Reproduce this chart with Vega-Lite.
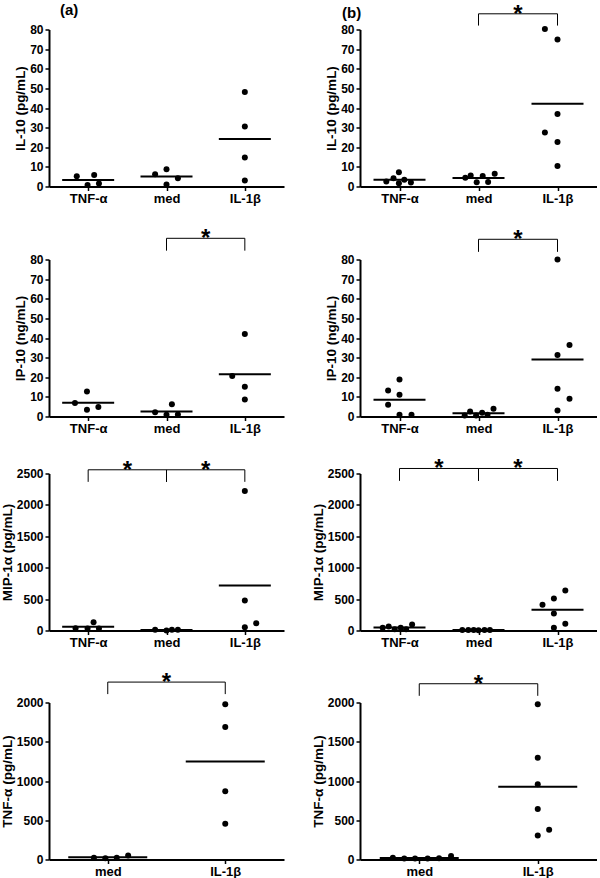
{
  "$schema": "https://vega.github.io/schema/vega-lite/v6.json",
  "padding": {"left": 0, "top": 2.5, "right": 0, "bottom": 0},
  "columns": 2,
  "align": "each",
  "spacing": {"row": 21, "column": 27},
  "datasets": {
    "pts": [
      {"p":"a1","cat":"TNF-α","v":5.2,"jit":-1.9},{"p":"a1","cat":"TNF-α","v":0.8,"jit":-0.1},{"p":"a1","cat":"TNF-α","v":5.8,"jit":1.0},{"p":"a1","cat":"TNF-α","v":1.5,"jit":1.8},
      {"p":"a1","cat":"med","v":6.3,"jit":-1.9},{"p":"a1","cat":"med","v":8.8,"jit":0},{"p":"a1","cat":"med","v":1.0,"jit":0},{"p":"a1","cat":"med","v":4.2,"jit":1.9},
      {"p":"a1","cat":"IL-1β","v":48.2,"jit":0},{"p":"a1","cat":"IL-1β","v":30.6,"jit":0},{"p":"a1","cat":"IL-1β","v":14.8,"jit":0},{"p":"a1","cat":"IL-1β","v":3.1,"jit":0},

      {"p":"b1","cat":"TNF-α","v":2.5,"jit":-2.2},{"p":"b1","cat":"TNF-α","v":4.2,"jit":-1.0},{"p":"b1","cat":"TNF-α","v":7.2,"jit":-0.1},{"p":"b1","cat":"TNF-α","v":1.7,"jit":-0.1},{"p":"b1","cat":"TNF-α","v":3.4,"jit":0.8},{"p":"b1","cat":"TNF-α","v":2.0,"jit":1.9},
      {"p":"b1","cat":"med","v":4.4,"jit":-2.2},{"p":"b1","cat":"med","v":5.6,"jit":-1.3},{"p":"b1","cat":"med","v":2.2,"jit":-0.3},{"p":"b1","cat":"med","v":5.3,"jit":0.7},{"p":"b1","cat":"med","v":2.3,"jit":1.6},{"p":"b1","cat":"med","v":6.5,"jit":2.7},
      {"p":"b1","cat":"IL-1β","v":80.3,"jit":-2.1},{"p":"b1","cat":"IL-1β","v":74.9,"jit":0},{"p":"b1","cat":"IL-1β","v":37.0,"jit":0},{"p":"b1","cat":"IL-1β","v":27.5,"jit":-2.1},{"p":"b1","cat":"IL-1β","v":22.7,"jit":0},{"p":"b1","cat":"IL-1β","v":10.4,"jit":0},

      {"p":"a2","cat":"TNF-α","v":6.9,"jit":-2.2},{"p":"a2","cat":"TNF-α","v":12.8,"jit":-0.2},{"p":"a2","cat":"TNF-α","v":3.4,"jit":-0.2},{"p":"a2","cat":"TNF-α","v":4.8,"jit":1.7},
      {"p":"a2","cat":"med","v":2.2,"jit":-1.9},{"p":"a2","cat":"med","v":0.9,"jit":0},{"p":"a2","cat":"med","v":6.3,"jit":0.9},{"p":"a2","cat":"med","v":1.0,"jit":1.9},
      {"p":"a2","cat":"IL-1β","v":42.0,"jit":0},{"p":"a2","cat":"IL-1β","v":20.6,"jit":-2.1},{"p":"a2","cat":"IL-1β","v":15.1,"jit":0},{"p":"a2","cat":"IL-1β","v":8.6,"jit":0},

      {"p":"b2","cat":"TNF-α","v":13.3,"jit":-1.9},{"p":"b2","cat":"TNF-α","v":18.8,"jit":0},{"p":"b2","cat":"TNF-α","v":11.1,"jit":0},{"p":"b2","cat":"TNF-α","v":6.0,"jit":-1.9},{"p":"b2","cat":"TNF-α","v":0.9,"jit":0},{"p":"b2","cat":"TNF-α","v":0.9,"jit":2.0},
      {"p":"b2","cat":"med","v":0.5,"jit":-2.3},{"p":"b2","cat":"med","v":2.6,"jit":-1.4},{"p":"b2","cat":"med","v":0.5,"jit":-0.4},{"p":"b2","cat":"med","v":1.9,"jit":0.6},{"p":"b2","cat":"med","v":0.9,"jit":1.5},{"p":"b2","cat":"med","v":3.9,"jit":2.5},
      {"p":"b2","cat":"IL-1β","v":80.0,"jit":0},{"p":"b2","cat":"IL-1β","v":36.4,"jit":2.0},{"p":"b2","cat":"IL-1β","v":31.3,"jit":0},{"p":"b2","cat":"IL-1β","v":14.2,"jit":0},{"p":"b2","cat":"IL-1β","v":9.1,"jit":2.0},{"p":"b2","cat":"IL-1β","v":3.1,"jit":0},

      {"p":"a3","cat":"TNF-α","v":37,"jit":-2.1},{"p":"a3","cat":"TNF-α","v":32,"jit":-0.1},{"p":"a3","cat":"TNF-α","v":133,"jit":0.9},{"p":"a3","cat":"TNF-α","v":32,"jit":1.8},
      {"p":"a3","cat":"med","v":10,"jit":-1.9},{"p":"a3","cat":"med","v":0,"jit":0},{"p":"a3","cat":"med","v":10,"jit":0.9},{"p":"a3","cat":"med","v":10,"jit":1.9},
      {"p":"a3","cat":"IL-1β","v":2223,"jit":0},{"p":"a3","cat":"IL-1β","v":479,"jit":0},{"p":"a3","cat":"IL-1β","v":53,"jit":0},{"p":"a3","cat":"IL-1β","v":117,"jit":1.9},

      {"p":"b3","cat":"TNF-α","v":43,"jit":-2.8},{"p":"b3","cat":"TNF-α","v":64,"jit":-1.8},{"p":"b3","cat":"TNF-α","v":21,"jit":-0.8},{"p":"b3","cat":"TNF-α","v":43,"jit":0.2},{"p":"b3","cat":"TNF-α","v":21,"jit":1.1},{"p":"b3","cat":"TNF-α","v":96,"jit":2.1},
      {"p":"b3","cat":"med","v":8,"jit":-2.7},{"p":"b3","cat":"med","v":8,"jit":-1.7},{"p":"b3","cat":"med","v":8,"jit":-0.8},{"p":"b3","cat":"med","v":4,"jit":0},{"p":"b3","cat":"med","v":8,"jit":1.0},{"p":"b3","cat":"med","v":8,"jit":1.9},
      {"p":"b3","cat":"IL-1β","v":410,"jit":-2.5},{"p":"b3","cat":"IL-1β","v":511,"jit":-0.6},{"p":"b3","cat":"IL-1β","v":638,"jit":1.3},{"p":"b3","cat":"IL-1β","v":271,"jit":-0.6},{"p":"b3","cat":"IL-1β","v":106,"jit":1.3},{"p":"b3","cat":"IL-1β","v":43,"jit":-0.6},

      {"p":"a4","cat":"med","v":21,"jit":-2.3},{"p":"a4","cat":"med","v":17,"jit":-0.4},{"p":"a4","cat":"med","v":21,"jit":1.5},{"p":"a4","cat":"med","v":51,"jit":3.4},
      {"p":"a4","cat":"IL-1β","v":1979,"jit":0},{"p":"a4","cat":"IL-1β","v":1689,"jit":0},{"p":"a4","cat":"IL-1β","v":870,"jit":0},{"p":"a4","cat":"IL-1β","v":456,"jit":0},

      {"p":"b4","cat":"med","v":21,"jit":-4.4},{"p":"b4","cat":"med","v":13,"jit":-2.5},{"p":"b4","cat":"med","v":13,"jit":-0.7},{"p":"b4","cat":"med","v":13,"jit":1.4},{"p":"b4","cat":"med","v":17,"jit":3.3},{"p":"b4","cat":"med","v":43,"jit":5.3},
      {"p":"b4","cat":"IL-1β","v":1979,"jit":0},{"p":"b4","cat":"IL-1β","v":1296,"jit":0},{"p":"b4","cat":"IL-1β","v":959,"jit":0},{"p":"b4","cat":"IL-1β","v":644,"jit":0},{"p":"b4","cat":"IL-1β","v":307,"jit":0},{"p":"b4","cat":"IL-1β","v":380,"jit":1.9}
    ],
    "br": [
      {"p":"b1","from":"med","to":"IL-1β","top":88.0,"bot":82.0,"sig":"*"},
      {"p":"a2","from":"med","to":"IL-1β","top":90.8,"bot":84.5,"sig":"*"},
      {"p":"b2","from":"med","to":"IL-1β","top":90.3,"bot":83.9,"sig":"*"},
      {"p":"a3","from":"TNF-α","to":"med","top":2559,"bot":2367,"sig":"*"},
      {"p":"a3","from":"med","to":"IL-1β","top":2559,"bot":2367,"sig":"*"},
      {"p":"b3","from":"TNF-α","to":"med","top":2580,"bot":2383,"sig":"*"},
      {"p":"b3","from":"med","to":"IL-1β","top":2580,"bot":2383,"sig":"*"},
      {"p":"a4","from":"med","to":"IL-1β","top":2260,"bot":2107,"sig":"*"},
      {"p":"b4","from":"med","to":"IL-1β","top":2239,"bot":2085,"sig":"*"}
    ]
  },
  "concat": [
    {"width":235,"height":157,
     "title":{"text":"(a)","frame":"group","anchor":"start","dx":11,"offset":6},
     "layer":[
      {"data":{"name":"pts"},"transform":[{"filter":"datum.p=='a1'"}],
       "mark":{"type":"circle","size":36,"color":"black","opacity":1},
       "encoding":{
        "x":{"field":"cat","type":"nominal","title":null,"scale":{"type":"point","domain":["TNF-α","med","IL-1β"],"padding":0.5}},
        "xOffset":{"field":"jit","type":"quantitative","scale":{"domain":[-6,6],"range":[-36,36]}},
        "y":{"field":"v","type":"quantitative","title":"IL-10 (pg/mL)","scale":{"domain":[0,80]},"axis":{"values":[0,10,20,30,40,50,60,70,80],"format":"d"}}}},
      {"data":{"name":"pts"},"transform":[{"filter":"datum.p=='a1'"},{"aggregate":[{"op":"mean","field":"v","as":"m"}],"groupby":["cat"]}],
       "mark":{"type":"tick","size":52,"thickness":2,"color":"black","opacity":1},
       "encoding":{
        "x":{"field":"cat","type":"nominal","title":null,"scale":{"type":"point","domain":["TNF-α","med","IL-1β"],"padding":0.5}},
        "y":{"field":"m","type":"quantitative","title":"IL-10 (pg/mL)","scale":{"domain":[0,80]},"axis":{"values":[0,10,20,30,40,50,60,70,80],"format":"d"}}}}
     ]},
    {"width":237,"height":157,
     "title":{"text":"(b)","frame":"group","anchor":"start","dx":-18,"dy":24,"offset":6},
     "layer":[
      {"data":{"name":"pts"},"transform":[{"filter":"datum.p=='b1'"}],
       "mark":{"type":"circle","size":36,"color":"black","opacity":1},
       "encoding":{
        "x":{"field":"cat","type":"nominal","title":null,"scale":{"type":"point","domain":["TNF-α","med","IL-1β"],"padding":0.5}},
        "xOffset":{"field":"jit","type":"quantitative","scale":{"domain":[-6,6],"range":[-36,36]}},
        "y":{"field":"v","type":"quantitative","title":"IL-10 (pg/mL)","scale":{"domain":[0,80]},"axis":{"values":[0,10,20,30,40,50,60,70,80],"format":"d"}}}},
      {"data":{"name":"pts"},"transform":[{"filter":"datum.p=='b1'"},{"aggregate":[{"op":"mean","field":"v","as":"m"}],"groupby":["cat"]}],
       "mark":{"type":"tick","size":52,"thickness":2,"color":"black","opacity":1},
       "encoding":{
        "x":{"field":"cat","type":"nominal","title":null,"scale":{"type":"point","domain":["TNF-α","med","IL-1β"],"padding":0.5}},
        "y":{"field":"m","type":"quantitative","title":"IL-10 (pg/mL)","scale":{"domain":[0,80]},"axis":{"values":[0,10,20,30,40,50,60,70,80],"format":"d"}}}},
      {"data":{"name":"br"},"transform":[{"filter":"datum.p=='b1'"}],
       "mark":{"type":"rule","color":"black","strokeWidth":1},
       "encoding":{
        "x":{"field":"from","type":"nominal","title":null,"scale":{"type":"point","domain":["TNF-α","med","IL-1β"],"padding":0.5}},
        "x2":{"field":"to"},
        "y":{"field":"top","type":"quantitative","title":"IL-10 (pg/mL)","scale":{"domain":[0,80]},"axis":{"values":[0,10,20,30,40,50,60,70,80],"format":"d"}}}},
      {"data":{"name":"br"},"transform":[{"filter":"datum.p=='b1'"},{"fold":["from","to"],"as":["end","cat"]}],
       "mark":{"type":"rule","color":"black","strokeWidth":1},
       "encoding":{
        "x":{"field":"cat","type":"nominal","title":null,"scale":{"type":"point","domain":["TNF-α","med","IL-1β"],"padding":0.5}},
        "y":{"field":"top","type":"quantitative","title":"IL-10 (pg/mL)","scale":{"domain":[0,80]},"axis":{"values":[0,10,20,30,40,50,60,70,80],"format":"d"}},
        "y2":{"field":"bot"}}},
      {"data":{"name":"br"},"transform":[{"filter":"datum.p=='b1'"}],
       "mark":{"type":"text","fontSize":24,"fontWeight":"bold","dx":39.5,"dy":8,"baseline":"alphabetic","align":"center","color":"black"},
       "encoding":{
        "x":{"field":"from","type":"nominal","title":null,"scale":{"type":"point","domain":["TNF-α","med","IL-1β"],"padding":0.5}},
        "y":{"field":"top","type":"quantitative","title":"IL-10 (pg/mL)","scale":{"domain":[0,80]},"axis":{"values":[0,10,20,30,40,50,60,70,80],"format":"d"}},
        "text":{"field":"sig"}}}
     ]},
    {"width":235,"height":157,
     "layer":[
      {"data":{"name":"pts"},"transform":[{"filter":"datum.p=='a2'"}],
       "mark":{"type":"circle","size":36,"color":"black","opacity":1},
       "encoding":{
        "x":{"field":"cat","type":"nominal","title":null,"scale":{"type":"point","domain":["TNF-α","med","IL-1β"],"padding":0.5}},
        "xOffset":{"field":"jit","type":"quantitative","scale":{"domain":[-6,6],"range":[-36,36]}},
        "y":{"field":"v","type":"quantitative","title":"IP-10 (ng/mL)","scale":{"domain":[0,80]},"axis":{"values":[0,10,20,30,40,50,60,70,80],"format":"d"}}}},
      {"data":{"name":"pts"},"transform":[{"filter":"datum.p=='a2'"},{"aggregate":[{"op":"mean","field":"v","as":"m"}],"groupby":["cat"]}],
       "mark":{"type":"tick","size":52,"thickness":2,"color":"black","opacity":1},
       "encoding":{
        "x":{"field":"cat","type":"nominal","title":null,"scale":{"type":"point","domain":["TNF-α","med","IL-1β"],"padding":0.5}},
        "y":{"field":"m","type":"quantitative","title":"IP-10 (ng/mL)","scale":{"domain":[0,80]},"axis":{"values":[0,10,20,30,40,50,60,70,80],"format":"d"}}}},
      {"data":{"name":"br"},"transform":[{"filter":"datum.p=='a2'"}],
       "mark":{"type":"rule","color":"black","strokeWidth":1},
       "encoding":{
        "x":{"field":"from","type":"nominal","title":null,"scale":{"type":"point","domain":["TNF-α","med","IL-1β"],"padding":0.5}},
        "x2":{"field":"to"},
        "y":{"field":"top","type":"quantitative","title":"IP-10 (ng/mL)","scale":{"domain":[0,80]},"axis":{"values":[0,10,20,30,40,50,60,70,80],"format":"d"}}}},
      {"data":{"name":"br"},"transform":[{"filter":"datum.p=='a2'"},{"fold":["from","to"],"as":["end","cat"]}],
       "mark":{"type":"rule","color":"black","strokeWidth":1},
       "encoding":{
        "x":{"field":"cat","type":"nominal","title":null,"scale":{"type":"point","domain":["TNF-α","med","IL-1β"],"padding":0.5}},
        "y":{"field":"top","type":"quantitative","title":"IP-10 (ng/mL)","scale":{"domain":[0,80]},"axis":{"values":[0,10,20,30,40,50,60,70,80],"format":"d"}},
        "y2":{"field":"bot"}}},
      {"data":{"name":"br"},"transform":[{"filter":"datum.p=='a2'"}],
       "mark":{"type":"text","fontSize":24,"fontWeight":"bold","dx":39.2,"dy":8,"baseline":"alphabetic","align":"center","color":"black"},
       "encoding":{
        "x":{"field":"from","type":"nominal","title":null,"scale":{"type":"point","domain":["TNF-α","med","IL-1β"],"padding":0.5}},
        "y":{"field":"top","type":"quantitative","title":"IP-10 (ng/mL)","scale":{"domain":[0,80]},"axis":{"values":[0,10,20,30,40,50,60,70,80],"format":"d"}},
        "text":{"field":"sig"}}}
     ]},
    {"width":237,"height":157,
     "layer":[
      {"data":{"name":"pts"},"transform":[{"filter":"datum.p=='b2'"}],
       "mark":{"type":"circle","size":36,"color":"black","opacity":1},
       "encoding":{
        "x":{"field":"cat","type":"nominal","title":null,"scale":{"type":"point","domain":["TNF-α","med","IL-1β"],"padding":0.5}},
        "xOffset":{"field":"jit","type":"quantitative","scale":{"domain":[-6,6],"range":[-36,36]}},
        "y":{"field":"v","type":"quantitative","title":"IP-10 (ng/mL)","scale":{"domain":[0,80]},"axis":{"values":[0,10,20,30,40,50,60,70,80],"format":"d"}}}},
      {"data":{"name":"pts"},"transform":[{"filter":"datum.p=='b2'"},{"aggregate":[{"op":"mean","field":"v","as":"m"}],"groupby":["cat"]}],
       "mark":{"type":"tick","size":52,"thickness":2,"color":"black","opacity":1},
       "encoding":{
        "x":{"field":"cat","type":"nominal","title":null,"scale":{"type":"point","domain":["TNF-α","med","IL-1β"],"padding":0.5}},
        "y":{"field":"m","type":"quantitative","title":"IP-10 (ng/mL)","scale":{"domain":[0,80]},"axis":{"values":[0,10,20,30,40,50,60,70,80],"format":"d"}}}},
      {"data":{"name":"br"},"transform":[{"filter":"datum.p=='b2'"}],
       "mark":{"type":"rule","color":"black","strokeWidth":1},
       "encoding":{
        "x":{"field":"from","type":"nominal","title":null,"scale":{"type":"point","domain":["TNF-α","med","IL-1β"],"padding":0.5}},
        "x2":{"field":"to"},
        "y":{"field":"top","type":"quantitative","title":"IP-10 (ng/mL)","scale":{"domain":[0,80]},"axis":{"values":[0,10,20,30,40,50,60,70,80],"format":"d"}}}},
      {"data":{"name":"br"},"transform":[{"filter":"datum.p=='b2'"},{"fold":["from","to"],"as":["end","cat"]}],
       "mark":{"type":"rule","color":"black","strokeWidth":1},
       "encoding":{
        "x":{"field":"cat","type":"nominal","title":null,"scale":{"type":"point","domain":["TNF-α","med","IL-1β"],"padding":0.5}},
        "y":{"field":"top","type":"quantitative","title":"IP-10 (ng/mL)","scale":{"domain":[0,80]},"axis":{"values":[0,10,20,30,40,50,60,70,80],"format":"d"}},
        "y2":{"field":"bot"}}},
      {"data":{"name":"br"},"transform":[{"filter":"datum.p=='b2'"}],
       "mark":{"type":"text","fontSize":24,"fontWeight":"bold","dx":39.5,"dy":8,"baseline":"alphabetic","align":"center","color":"black"},
       "encoding":{
        "x":{"field":"from","type":"nominal","title":null,"scale":{"type":"point","domain":["TNF-α","med","IL-1β"],"padding":0.5}},
        "y":{"field":"top","type":"quantitative","title":"IP-10 (ng/mL)","scale":{"domain":[0,80]},"axis":{"values":[0,10,20,30,40,50,60,70,80],"format":"d"}},
        "text":{"field":"sig"}}}
     ]},
    {"width":235,"height":157,
     "layer":[
      {"data":{"name":"pts"},"transform":[{"filter":"datum.p=='a3'"}],
       "mark":{"type":"circle","size":36,"color":"black","opacity":1},
       "encoding":{
        "x":{"field":"cat","type":"nominal","title":null,"scale":{"type":"point","domain":["TNF-α","med","IL-1β"],"padding":0.5}},
        "xOffset":{"field":"jit","type":"quantitative","scale":{"domain":[-6,6],"range":[-36,36]}},
        "y":{"field":"v","type":"quantitative","title":"MIP-1α (pg/mL)","scale":{"domain":[0,2500]},"axis":{"values":[0,500,1000,1500,2000,2500],"format":"d"}}}},
      {"data":{"name":"pts"},"transform":[{"filter":"datum.p=='a3'"},{"aggregate":[{"op":"mean","field":"v","as":"m"}],"groupby":["cat"]}],
       "mark":{"type":"tick","size":52,"thickness":2,"color":"black","opacity":1},
       "encoding":{
        "x":{"field":"cat","type":"nominal","title":null,"scale":{"type":"point","domain":["TNF-α","med","IL-1β"],"padding":0.5}},
        "y":{"field":"m","type":"quantitative","title":"MIP-1α (pg/mL)","scale":{"domain":[0,2500]},"axis":{"values":[0,500,1000,1500,2000,2500],"format":"d"}}}},
      {"data":{"name":"br"},"transform":[{"filter":"datum.p=='a3'"}],
       "mark":{"type":"rule","color":"black","strokeWidth":1},
       "encoding":{
        "x":{"field":"from","type":"nominal","title":null,"scale":{"type":"point","domain":["TNF-α","med","IL-1β"],"padding":0.5}},
        "x2":{"field":"to"},
        "y":{"field":"top","type":"quantitative","title":"MIP-1α (pg/mL)","scale":{"domain":[0,2500]},"axis":{"values":[0,500,1000,1500,2000,2500],"format":"d"}}}},
      {"data":{"name":"br"},"transform":[{"filter":"datum.p=='a3'"},{"fold":["from","to"],"as":["end","cat"]}],
       "mark":{"type":"rule","color":"black","strokeWidth":1},
       "encoding":{
        "x":{"field":"cat","type":"nominal","title":null,"scale":{"type":"point","domain":["TNF-α","med","IL-1β"],"padding":0.5}},
        "y":{"field":"top","type":"quantitative","title":"MIP-1α (pg/mL)","scale":{"domain":[0,2500]},"axis":{"values":[0,500,1000,1500,2000,2500],"format":"d"}},
        "y2":{"field":"bot"}}},
      {"data":{"name":"br"},"transform":[{"filter":"datum.p=='a3'"}],
       "mark":{"type":"text","fontSize":24,"fontWeight":"bold","dx":39.2,"dy":8,"baseline":"alphabetic","align":"center","color":"black"},
       "encoding":{
        "x":{"field":"from","type":"nominal","title":null,"scale":{"type":"point","domain":["TNF-α","med","IL-1β"],"padding":0.5}},
        "y":{"field":"top","type":"quantitative","title":"MIP-1α (pg/mL)","scale":{"domain":[0,2500]},"axis":{"values":[0,500,1000,1500,2000,2500],"format":"d"}},
        "text":{"field":"sig"}}}
     ]},
    {"width":237,"height":157,
     "layer":[
      {"data":{"name":"pts"},"transform":[{"filter":"datum.p=='b3'"}],
       "mark":{"type":"circle","size":36,"color":"black","opacity":1},
       "encoding":{
        "x":{"field":"cat","type":"nominal","title":null,"scale":{"type":"point","domain":["TNF-α","med","IL-1β"],"padding":0.5}},
        "xOffset":{"field":"jit","type":"quantitative","scale":{"domain":[-6,6],"range":[-36,36]}},
        "y":{"field":"v","type":"quantitative","title":"MIP-1α (pg/mL)","scale":{"domain":[0,2500]},"axis":{"values":[0,500,1000,1500,2000,2500],"format":"d"}}}},
      {"data":{"name":"pts"},"transform":[{"filter":"datum.p=='b3'"},{"aggregate":[{"op":"mean","field":"v","as":"m"}],"groupby":["cat"]}],
       "mark":{"type":"tick","size":52,"thickness":2,"color":"black","opacity":1},
       "encoding":{
        "x":{"field":"cat","type":"nominal","title":null,"scale":{"type":"point","domain":["TNF-α","med","IL-1β"],"padding":0.5}},
        "y":{"field":"m","type":"quantitative","title":"MIP-1α (pg/mL)","scale":{"domain":[0,2500]},"axis":{"values":[0,500,1000,1500,2000,2500],"format":"d"}}}},
      {"data":{"name":"br"},"transform":[{"filter":"datum.p=='b3'"}],
       "mark":{"type":"rule","color":"black","strokeWidth":1},
       "encoding":{
        "x":{"field":"from","type":"nominal","title":null,"scale":{"type":"point","domain":["TNF-α","med","IL-1β"],"padding":0.5}},
        "x2":{"field":"to"},
        "y":{"field":"top","type":"quantitative","title":"MIP-1α (pg/mL)","scale":{"domain":[0,2500]},"axis":{"values":[0,500,1000,1500,2000,2500],"format":"d"}}}},
      {"data":{"name":"br"},"transform":[{"filter":"datum.p=='b3'"},{"fold":["from","to"],"as":["end","cat"]}],
       "mark":{"type":"rule","color":"black","strokeWidth":1},
       "encoding":{
        "x":{"field":"cat","type":"nominal","title":null,"scale":{"type":"point","domain":["TNF-α","med","IL-1β"],"padding":0.5}},
        "y":{"field":"top","type":"quantitative","title":"MIP-1α (pg/mL)","scale":{"domain":[0,2500]},"axis":{"values":[0,500,1000,1500,2000,2500],"format":"d"}},
        "y2":{"field":"bot"}}},
      {"data":{"name":"br"},"transform":[{"filter":"datum.p=='b3'"}],
       "mark":{"type":"text","fontSize":24,"fontWeight":"bold","dx":39.5,"dy":8,"baseline":"alphabetic","align":"center","color":"black"},
       "encoding":{
        "x":{"field":"from","type":"nominal","title":null,"scale":{"type":"point","domain":["TNF-α","med","IL-1β"],"padding":0.5}},
        "y":{"field":"top","type":"quantitative","title":"MIP-1α (pg/mL)","scale":{"domain":[0,2500]},"axis":{"values":[0,500,1000,1500,2000,2500],"format":"d"}},
        "text":{"field":"sig"}}}
     ]},
    {"width":235,"height":157,
     "layer":[
      {"data":{"name":"pts"},"transform":[{"filter":"datum.p=='a4'"}],
       "mark":{"type":"circle","size":36,"color":"black","opacity":1},
       "encoding":{
        "x":{"field":"cat","type":"nominal","title":null,"scale":{"type":"point","domain":["med","IL-1β"],"padding":0.5}},
        "xOffset":{"field":"jit","type":"quantitative","scale":{"domain":[-6,6],"range":[-36,36]}},
        "y":{"field":"v","type":"quantitative","title":"TNF-α (pg/mL)","scale":{"domain":[0,2000]},"axis":{"values":[0,500,1000,1500,2000],"format":"d"}}}},
      {"data":{"name":"pts"},"transform":[{"filter":"datum.p=='a4'"},{"aggregate":[{"op":"mean","field":"v","as":"m"}],"groupby":["cat"]}],
       "mark":{"type":"tick","size":79,"thickness":2,"color":"black","opacity":1},
       "encoding":{
        "x":{"field":"cat","type":"nominal","title":null,"scale":{"type":"point","domain":["med","IL-1β"],"padding":0.5}},
        "y":{"field":"m","type":"quantitative","title":"TNF-α (pg/mL)","scale":{"domain":[0,2000]},"axis":{"values":[0,500,1000,1500,2000],"format":"d"}}}},
      {"data":{"name":"br"},"transform":[{"filter":"datum.p=='a4'"}],
       "mark":{"type":"rule","color":"black","strokeWidth":1},
       "encoding":{
        "x":{"field":"from","type":"nominal","title":null,"scale":{"type":"point","domain":["med","IL-1β"],"padding":0.5}},
        "x2":{"field":"to"},
        "y":{"field":"top","type":"quantitative","title":"TNF-α (pg/mL)","scale":{"domain":[0,2000]},"axis":{"values":[0,500,1000,1500,2000],"format":"d"}}}},
      {"data":{"name":"br"},"transform":[{"filter":"datum.p=='a4'"},{"fold":["from","to"],"as":["end","cat"]}],
       "mark":{"type":"rule","color":"black","strokeWidth":1},
       "encoding":{
        "x":{"field":"cat","type":"nominal","title":null,"scale":{"type":"point","domain":["med","IL-1β"],"padding":0.5}},
        "y":{"field":"top","type":"quantitative","title":"TNF-α (pg/mL)","scale":{"domain":[0,2000]},"axis":{"values":[0,500,1000,1500,2000],"format":"d"}},
        "y2":{"field":"bot"}}},
      {"data":{"name":"br"},"transform":[{"filter":"datum.p=='a4'"}],
       "mark":{"type":"text","fontSize":24,"fontWeight":"bold","dx":58.75,"dy":8,"baseline":"alphabetic","align":"center","color":"black"},
       "encoding":{
        "x":{"field":"from","type":"nominal","title":null,"scale":{"type":"point","domain":["med","IL-1β"],"padding":0.5}},
        "y":{"field":"top","type":"quantitative","title":"TNF-α (pg/mL)","scale":{"domain":[0,2000]},"axis":{"values":[0,500,1000,1500,2000],"format":"d"}},
        "text":{"field":"sig"}}}
     ]},
    {"width":237,"height":157,
     "layer":[
      {"data":{"name":"pts"},"transform":[{"filter":"datum.p=='b4'"}],
       "mark":{"type":"circle","size":36,"color":"black","opacity":1},
       "encoding":{
        "x":{"field":"cat","type":"nominal","title":null,"scale":{"type":"point","domain":["med","IL-1β"],"padding":0.5}},
        "xOffset":{"field":"jit","type":"quantitative","scale":{"domain":[-6,6],"range":[-36,36]}},
        "y":{"field":"v","type":"quantitative","title":"TNF-α (pg/mL)","scale":{"domain":[0,2000]},"axis":{"values":[0,500,1000,1500,2000],"format":"d"}}}},
      {"data":{"name":"pts"},"transform":[{"filter":"datum.p=='b4'"},{"aggregate":[{"op":"mean","field":"v","as":"m"}],"groupby":["cat"]}],
       "mark":{"type":"tick","size":79,"thickness":2,"color":"black","opacity":1},
       "encoding":{
        "x":{"field":"cat","type":"nominal","title":null,"scale":{"type":"point","domain":["med","IL-1β"],"padding":0.5}},
        "y":{"field":"m","type":"quantitative","title":"TNF-α (pg/mL)","scale":{"domain":[0,2000]},"axis":{"values":[0,500,1000,1500,2000],"format":"d"}}}},
      {"data":{"name":"br"},"transform":[{"filter":"datum.p=='b4'"}],
       "mark":{"type":"rule","color":"black","strokeWidth":1},
       "encoding":{
        "x":{"field":"from","type":"nominal","title":null,"scale":{"type":"point","domain":["med","IL-1β"],"padding":0.5}},
        "x2":{"field":"to"},
        "y":{"field":"top","type":"quantitative","title":"TNF-α (pg/mL)","scale":{"domain":[0,2000]},"axis":{"values":[0,500,1000,1500,2000],"format":"d"}}}},
      {"data":{"name":"br"},"transform":[{"filter":"datum.p=='b4'"},{"fold":["from","to"],"as":["end","cat"]}],
       "mark":{"type":"rule","color":"black","strokeWidth":1},
       "encoding":{
        "x":{"field":"cat","type":"nominal","title":null,"scale":{"type":"point","domain":["med","IL-1β"],"padding":0.5}},
        "y":{"field":"top","type":"quantitative","title":"TNF-α (pg/mL)","scale":{"domain":[0,2000]},"axis":{"values":[0,500,1000,1500,2000],"format":"d"}},
        "y2":{"field":"bot"}}},
      {"data":{"name":"br"},"transform":[{"filter":"datum.p=='b4'"}],
       "mark":{"type":"text","fontSize":24,"fontWeight":"bold","dx":59.25,"dy":8,"baseline":"alphabetic","align":"center","color":"black"},
       "encoding":{
        "x":{"field":"from","type":"nominal","title":null,"scale":{"type":"point","domain":["med","IL-1β"],"padding":0.5}},
        "y":{"field":"top","type":"quantitative","title":"TNF-α (pg/mL)","scale":{"domain":[0,2000]},"axis":{"values":[0,500,1000,1500,2000],"format":"d"}},
        "text":{"field":"sig"}}}
     ]}
  ],
  "config": {
    "font": "Liberation Sans",
    "view": {"stroke": null},
    "axis": {"domainColor": "black", "domainWidth": 2, "tickColor": "black", "tickWidth": 1.5, "tickSize": 4, "labelColor": "black", "labelFontWeight": "bold", "titleFontWeight": "bold", "titleColor": "black", "grid": false, "labelFont": "Liberation Sans", "titleFont": "Liberation Sans", "labelOverlap": false},
    "axisY": {"labelFontSize": 12, "titleFontSize": 13.5, "labelPadding": 2, "titlePadding": 2},
    "axisX": {"labelFontSize": 13, "labelAngle": 0, "labelPadding": 2},
    "title": {"fontSize": 15, "fontWeight": "bold", "anchor": "start", "frame": "group", "color": "black", "font": "Liberation Sans"}
  }
}
